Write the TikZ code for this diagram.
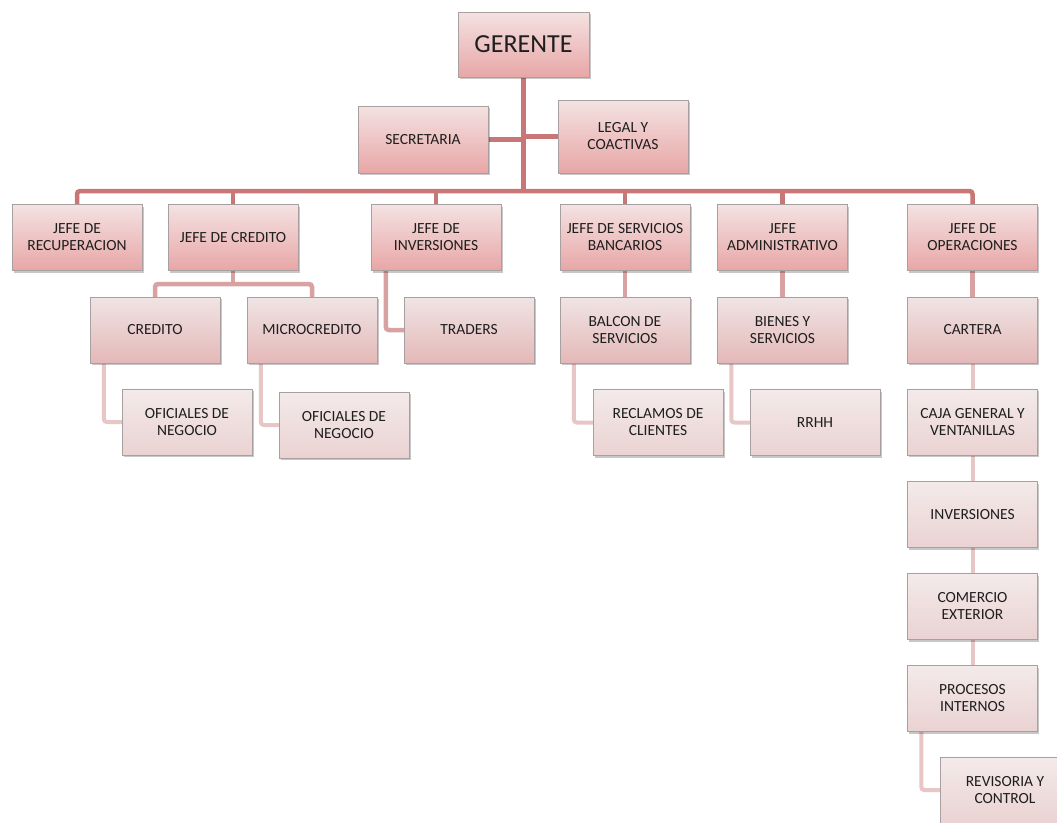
\documentclass[tikz,border=0pt]{standalone}
\usepackage{fontspec}
\setmainfont{Carlito}
\usetikzlibrary{shadows,backgrounds}
\definecolor{aTop}{HTML}{F4E2E2}
\definecolor{aBot}{HTML}{E8A6A6}
\definecolor{bTop}{HTML}{F0E4E4}
\definecolor{bBot}{HTML}{E4B8B8}
\definecolor{cTop}{HTML}{F4EAEA}
\definecolor{cBot}{HTML}{EAD2D2}
\definecolor{lineA}{HTML}{C97676}
\definecolor{lineB}{HTML}{D9A2A2}
\definecolor{lineC}{HTML}{E8C6C6}
\definecolor{boxBorder}{HTML}{A8A0A0}
\definecolor{textc}{HTML}{1E1E1E}
\begin{document}
\begin{tikzpicture}[x=1pt,y=-1pt,
  base/.style={draw=boxBorder, line width=0.5pt, minimum width=130pt, minimum height=66pt,
    align=center, inner sep=2pt, font=\fontsize{15.5}{17}\selectfont, text=textc,
    drop shadow={shadow xshift=1.5pt, shadow yshift=-2pt, fill=black, opacity=0.22}},
  lvA/.style={base, top color=aTop, bottom color=aBot},
  lvB/.style={base, top color=bTop, bottom color=bBot},
  lvC/.style={base, top color=cTop, bottom color=cBot},
  conA/.style={draw=lineA, line width=4.5pt, rounded corners=3pt},
  conB/.style={draw=lineB, line width=4.5pt, rounded corners=3pt},
  conC/.style={draw=lineC, line width=4pt, rounded corners=3pt}]
\clip (0,0) rectangle (1057,822);
% level 0/1
\node[lvA, minimum width=131pt, minimum height=65pt, font=\fontsize{26}{28}\selectfont] (ger) at (523.5,44.5) {GERENTE};
\node[lvA, minimum height=67pt] (sec) at (423,139.5) {SECRETARIA};
\node[lvA, minimum height=73pt] (legal) at (623,136.5) {LEGAL Y\\COACTIVAS};
\node[lvA] (jrec) at (77,237.5) {JEFE DE\\RECUPERACION};
\node[lvA] (jcred) at (233,237.5) {JEFE DE CREDITO};
\node[lvA] (jinv) at (436,237.5) {JEFE DE\\INVERSIONES};
\node[lvA] (jserv) at (625,237.5) {JEFE DE SERVICIOS\\BANCARIOS};
\node[lvA] (jadm) at (782.5,237.5) {JEFE\\ADMINISTRATIVO};
\node[lvA] (jops) at (972.5,237.5) {JEFE DE\\OPERACIONES};
% level 2
\node[lvB] (cred) at (155,330) {CREDITO};
\node[lvB] (micro) at (312,330) {MICROCREDITO};
\node[lvB] (traders) at (469,330) {TRADERS};
\node[lvB] (balcon) at (625,330) {BALCON DE\\SERVICIOS};
\node[lvB] (bienes) at (782.5,330) {BIENES Y\\SERVICIOS};
\node[lvB] (cart) at (972.5,330) {CARTERA};
% level 3
\node[lvC] (ofi1) at (187,422) {OFICIALES DE\\NEGOCIO};
\node[lvC] (ofi2) at (344,425) {OFICIALES DE\\NEGOCIO};
\node[lvC] (recl) at (658,422.5) {RECLAMOS DE\\CLIENTES};
\node[lvC] (rrhh) at (815,422.5) {RRHH};
\node[lvC] (caja) at (972.5,422) {CAJA GENERAL Y\\VENTANILLAS};
\node[lvC] (inv) at (972.5,514.5) {INVERSIONES};
\node[lvC] (come) at (972.5,606.5) {COMERCIO\\EXTERIOR};
\node[lvC] (proc) at (972.5,698.5) {PROCESOS\\INTERNOS};
\node[lvC] (rev) at (1005,790) {REVISORIA Y\\CONTROL};
\coordinate (barL) at (77,191);
\coordinate (barR) at (972.5,191);
\coordinate (cb) at (233,284);
\begin{scope}[on background layer]
\fill[white] (0,0) rectangle (1057,822);
\draw[conA] (jrec.north) -- (barL) -- (barR) -- (jops.north);
\draw[conA] (ger.south) -- (ger.south |- barL);
\draw[conA] (sec.east) -- (sec.east -| ger.south);
\draw[conA] (legal.west) -- (legal.west -| ger.south);
\draw[conA] (jcred.north) -- (jcred.north |- barL);
\draw[conA] (jinv.north) -- (jinv.north |- barL);
\draw[conA] (jserv.north) -- (jserv.north |- barL);
\draw[conA] (jadm.north) -- (jadm.north |- barL);
\draw[conB] (cred.north) |- (cb) -| (micro.north);
\draw[conB] (jcred.south) -- (cb);
\draw[conB] ([xshift=15pt]jinv.south west) |- (traders.west);
\draw[conB] (jserv.south) -- (balcon.north);
\draw[conB] (jadm.south) -- (bienes.north);
\draw[conB] (jops.south) -- (cart.north);
\draw[conC] ([xshift=14pt]cred.south west) |- (ofi1.west);
\draw[conC] ([xshift=14pt]micro.south west) |- (ofi2.west);
\draw[conC] ([xshift=14pt]balcon.south west) |- (recl.west);
\draw[conC] ([xshift=14pt]bienes.south west) |- (rrhh.west);
\draw[conC] (cart.south) -- (caja.north);
\draw[conC] (caja.south) -- (inv.north);
\draw[conC] (inv.south) -- (come.north);
\draw[conC] (come.south) -- (proc.north);
\draw[conC] ([xshift=14pt]proc.south west) |- (rev.west);
\end{scope}
\end{tikzpicture}
\end{document}
